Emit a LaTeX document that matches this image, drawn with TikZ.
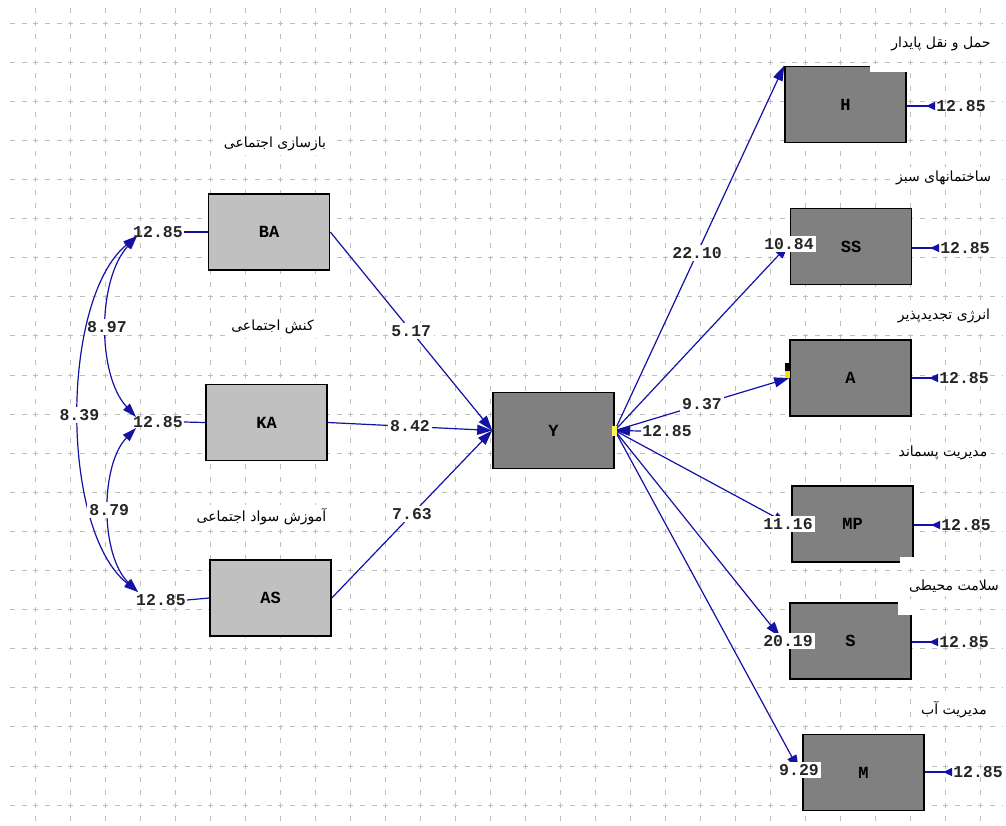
\documentclass[tikz,border=0pt]{standalone}
\usepackage{fontspec}
\usetikzlibrary{arrows.meta,calc}
\TeXXeTstate=1
\setmonofont{Liberation Mono}
\newfontfamily\perfont[Script=Arabic]{DejaVu Sans}
\newfontfamily\numfam{Liberation Mono}
\definecolor{pathblue}{RGB}{18,18,165}
\definecolor{lightbox}{RGB}{192,192,192}
\definecolor{darkbox}{RGB}{128,128,128}
\definecolor{gridgray}{RGB}{190,190,190}
\pgfdeclarelayer{bg}
\pgfdeclarelayer{edges}
\pgfsetlayers{bg,edges,main}
\tikzset{
  boxlight/.style={draw=black, line width=1.6pt, fill=lightbox, minimum width=121pt,
    minimum height=76pt, inner sep=0pt, font=\numfam\bfseries\fontsize{17}{17}\selectfont},
  boxdark/.style={boxlight, fill=darkbox},
  num/.style={font=\numfam\bfseries\fontsize{16.5}{17}\selectfont, inner sep=1pt, text=black!85},
  numbg/.style={num, fill=white, inner sep=2.5pt},
  per/.style={font=\perfont\fontsize{14}{16}\selectfont, fill=white, inner sep=4pt},
  conn/.style={draw=pathblue, line width=1.2pt},
  bigarrow/.style={conn, -{Triangle[length=15pt,width=10pt]}},
  covarrow/.style={conn, {Triangle[length=14pt,width=9pt]}-{Triangle[length=14pt,width=9pt]}},
  errarrow/.style={conn, -{Triangle[reversed,length=9pt,width=8pt]}},
  gridh/.style={draw=gridgray, line width=0.8pt, dash pattern=on 5pt off 6.667pt},
  gridv/.style={draw=gridgray, line width=0.8pt, dash pattern=on 5pt off 8.03pt}
}
\begin{document}
\begin{tikzpicture}[x=1pt,y=-1pt]
\useasboundingbox (0,0) rectangle (1006,825);
\begin{pgfonlayer}{bg}
\fill[white] (0,0) rectangle (1006,825);
\foreach \i in {1,...,28} \draw[gridv] (35*\i,8) -- (35*\i,825);
\foreach \j in {0,...,20} \draw[gridh] (10,23+39.1*\j) -- (1002,23+39.1*\j);
\end{pgfonlayer}

% Persian captions
\node[per] (tBA) at (275,144) {\beginR بازسازی اجتماعی\endR};
\node[per] (tKA) at (272.5,327) {\beginR کنش اجتماعی\endR};
\node[per] (tAS) at (261.5,517) {\beginR آموزش سواد اجتماعی\endR};
\node[per] (tH) at (941,44) {\beginR حمل و نقل پایدار\endR};
\node[per] (tSS) at (943.5,178) {\beginR ساختمانهای سبز\endR};
\node[per] (tA) at (944,316) {\beginR انرژی تجدیدپذیر\endR};
\node[per] (tMP) at (943,453) {\beginR مدیریت پسماند\endR};
\node[per] (tS) at (954,586) {\beginR سلامت محیطی\endR};
\node[per] (tM) at (954,710) {\beginR مدیریت آب\endR};

% boxes
\node[boxlight] (BA) at (269,232) {BA};
\node[boxlight] (KA) at (266.5,422.5) {KA};
\node[boxlight] (AS) at (270.5,598) {AS};
\node[boxdark] (Y) at (553.5,430.5) {Y};
\node[boxdark] (H) at (845.5,104.5) {H};
\node[boxdark] (SS) at (851,246.5) {SS};
\node[boxdark] (A) at (850.5,378) {A};
\node[boxdark] (MP) at (852.5,524) {MP};
\node[boxdark] (S) at (850.5,641) {S};
\node[boxdark] (M) at (863.5,772.5) {M};

% notches and markers
\fill[white] (870,64) rectangle (908,72);
\fill[white] (898,600) rectangle (913,615);
\fill[white] (900,557) rectangle (914,564);
\fill[black] (785,363) rectangle (790,371);
\fill[yellow!80!orange] (785,371) rectangle (790,378);
\fill[yellow!70!white] (612,426) rectangle (617,436);

% error values
\node[num] (eBA) at (158,232) {12.85};
\node[num] (eKA) at (158,422) {12.85};
\node[num] (eAS) at (161,600) {12.85};
\node[num] (eY) at (667,431) {12.85};
\node[num] (eH) at (961,106) {12.85};
\node[num] (eSS) at (965,248) {12.85};
\node[num] (eA) at (964,378) {12.85};
\node[num] (eMP) at (966,525) {12.85};
\node[num] (eS) at (964,642) {12.85};
\node[num] (eM) at (978,772) {12.85};

% loading labels sitting on the boxes
\node[numbg] (lSS) at (789,244) {10.84};
\node[numbg] (lMP) at (788,524) {11.16};
\node[numbg] (lS) at (788,641) {20.19};
\node[numbg] (lM) at (799,770) {9.29};

\begin{pgfonlayer}{edges}
% left error lines
\draw[conn] (eBA.east) -- (BA.west);
\draw[conn] (eKA.east) -- (KA.west);
\draw[conn] (eAS.east) -- (AS.west);
% covariances
\coordinate (cBA) at ($(eBA.west)+(5,4)$);
\coordinate (cKAu) at ($(eKA.west)+(4,-5)$);
\coordinate (cKAd) at ($(eKA.west)+(4,6)$);
\coordinate (cAS) at ($(eAS.west)+(3,-8)$);
\draw[covarrow] (cBA) .. controls (97,280) and (97,375) .. node[numbg]{8.97} (cKAu);
\draw[covarrow] (cBA) .. controls (60,300) and (60,530) .. node[numbg]{8.39} (cAS);
\draw[covarrow] (cKAd) .. controls (100,465) and (100,555) .. node[numbg]{8.79} (cAS);
% paths into Y
\draw[bigarrow] (BA.east) -- node[numbg]{5.17} (Y.west);
\draw[bigarrow] (KA.east) -- node[numbg]{8.42} (Y.west);
\draw[bigarrow] (AS.east) -- node[numbg]{7.63} (Y.west);
% Y error
\draw[bigarrow] (eY.west) -- (Y.east);
% paths out of Y
\draw[bigarrow] (Y.east) -- node[numbg, pos=0.486]{22.10} (H.north west);
\draw[bigarrow] (Y.east) -- node[numbg, pos=0.5]{9.37} (A.west);
\draw[bigarrow] (Y.east) -- (lSS.center);
\draw[bigarrow] (Y.east) -- (lMP.center);
\draw[bigarrow] (Y.east) -- ($(lS.north)+(-8,4)$);
\draw[bigarrow] (Y.east) -- (lM.center);
% right error arrows
\draw[errarrow] (eH.west -| H.east) -- (eH.west);
\draw[errarrow] (eSS.west -| SS.east) -- (eSS.west);
\draw[errarrow] (eA.west -| A.east) -- (eA.west);
\draw[errarrow] (eMP.west -| MP.east) -- (eMP.west);
\draw[errarrow] (eS.west -| S.east) -- (eS.west);
\draw[errarrow] (eM.west -| M.east) -- (eM.west);
\end{pgfonlayer}
\end{tikzpicture}
\end{document}
